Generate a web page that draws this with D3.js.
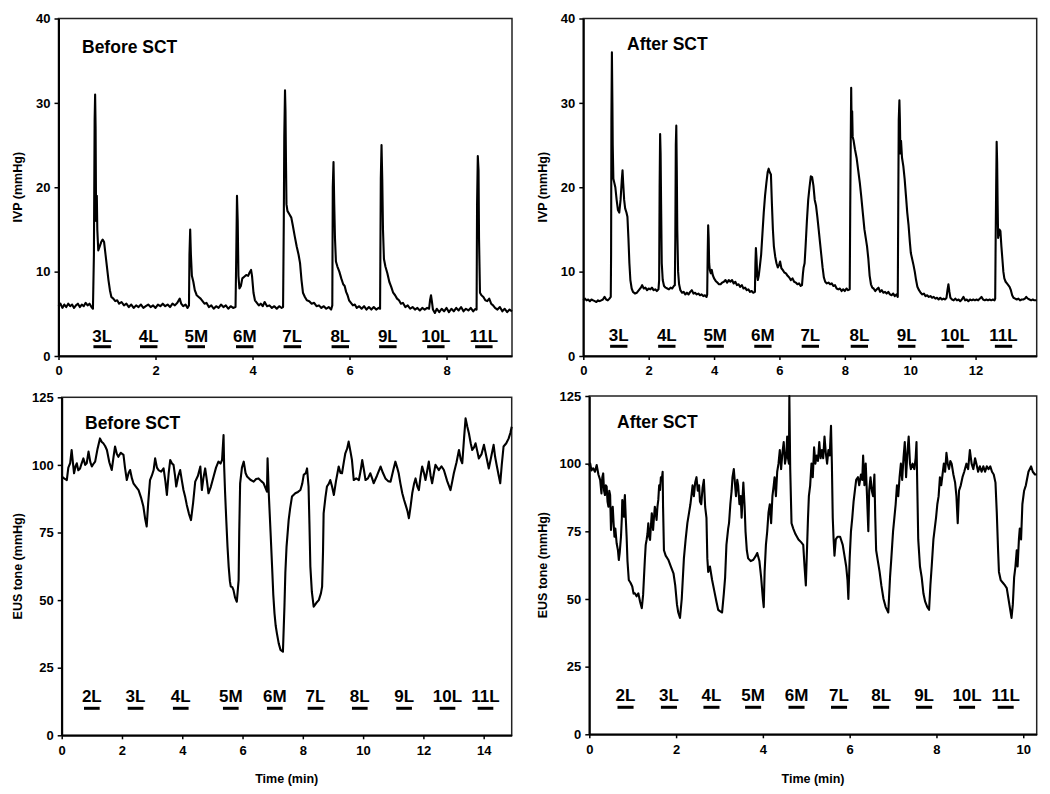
<!DOCTYPE html>
<html><head><meta charset="utf-8">
<script src="https://cdn.jsdelivr.net/npm/d3@7"></script>
<style>
html,body{margin:0;padding:0;background:#fff;}
svg text{font-family:"Liberation Sans",Arial,sans-serif;font-weight:bold;fill:#000;}
</style></head>
<body><svg id="c" width="1050" height="794"></svg>
<script>
// ---- DATA ----
const ivpBefore = [[0,5.9],[0.04,6.2],[0.08,5.7],[0.12,6.1],[0.16,5.8],[0.2,6.2],[0.24,5.9],[0.28,6.1],[0.32,5.7],[0.36,6.0],[0.4,6.2],[0.44,5.8],[0.48,6.1],[0.52,5.9],[0.56,6.3],[0.6,6.0],[0.64,6.2],[0.68,5.8],[0.71,5.6],[0.73,12],[0.745,28],[0.755,31],[0.765,27],[0.775,16],[0.79,19],[0.8,15],[0.82,12.5],[0.85,13],[0.88,13.5],[0.91,13.8],[0.94,13.5],[0.97,12],[1.0,10.5],[1.03,9],[1.06,7.8],[1.09,7],[1.13,6.8],[1.17,6.5],[1.21,6.6],[1.25,6.2],[1.3,6.4],[1.35,6.0],[1.4,6.2],[1.45,5.8],[1.5,6.1],[1.55,5.7],[1.6,6.0],[1.65,5.8],[1.7,6.1],[1.75,5.7],[1.8,5.9],[1.85,6.1],[1.9,5.8],[1.95,6.0],[2.0,5.7],[2.05,6.1],[2.1,5.9],[2.15,6.2],[2.2,5.9],[2.25,6.1],[2.3,5.8],[2.35,6.2],[2.4,6.0],[2.45,6.3],[2.5,6.8],[2.53,6.2],[2.57,5.9],[2.62,6.1],[2.66,5.7],[2.69,6],[2.7,12],[2.715,15],[2.73,12],[2.75,9.5],[2.78,8.8],[2.81,7.8],[2.85,7.2],[2.89,7.0],[2.93,6.8],[2.97,6.5],[3.01,6.2],[3.05,6.3],[3.1,5.8],[3.15,6.0],[3.2,5.6],[3.25,5.9],[3.3,5.7],[3.35,6.1],[3.4,5.8],[3.45,6.0],[3.5,5.6],[3.55,5.9],[3.6,5.7],[3.65,5.8],[3.665,12],[3.68,19],[3.695,16],[3.71,9.5],[3.73,8],[3.76,8.3],[3.79,9.2],[3.83,9.4],[3.87,9.6],[3.91,9.5],[3.94,9.9],[3.97,10.2],[3.99,9.5],[4.02,7.5],[4.05,6.6],[4.09,6.3],[4.13,6.0],[4.17,6.2],[4.21,5.9],[4.25,6.4],[4.3,5.9],[4.35,6.0],[4.4,5.7],[4.45,5.9],[4.5,5.6],[4.55,5.9],[4.6,5.7],[4.63,5.8],[4.645,16],[4.655,26],[4.67,31.5],[4.68,29],[4.69,23],[4.7,18],[4.72,17.2],[4.76,16.8],[4.8,16.4],[4.83,15.5],[4.87,14.2],[4.91,13],[4.95,12],[4.98,11],[5.01,9],[5.04,7.5],[5.08,7.0],[5.12,6.6],[5.17,6.5],[5.22,6.2],[5.27,6.3],[5.32,5.9],[5.37,6.0],[5.42,5.7],[5.47,5.9],[5.52,5.6],[5.57,5.8],[5.62,5.5],[5.645,6],[5.655,20],[5.67,23],[5.685,18],[5.7,14],[5.72,11.2],[5.75,10.6],[5.79,10],[5.83,9.2],[5.87,8.5],[5.9,8.3],[5.93,7.6],[5.96,7.2],[5.99,6.6],[6.03,6.3],[6.07,6.0],[6.11,6.1],[6.15,5.7],[6.2,5.9],[6.25,5.6],[6.3,5.9],[6.35,5.5],[6.4,5.8],[6.45,5.5],[6.5,5.8],[6.55,5.5],[6.6,5.7],[6.63,5.6],[6.645,21],[6.66,25],[6.675,21],[6.69,15],[6.71,11.5],[6.74,10.6],[6.78,9.8],[6.82,8.8],[6.86,8.2],[6.9,7.5],[6.94,7.2],[6.98,6.8],[7.02,6.6],[7.06,6.2],[7.1,6.3],[7.15,5.8],[7.2,6.0],[7.25,5.6],[7.3,5.8],[7.35,5.5],[7.4,5.7],[7.45,5.4],[7.5,5.7],[7.55,5.5],[7.6,5.7],[7.64,5.6],[7.66,6.6],[7.68,7.2],[7.7,6.4],[7.72,5.5],[7.76,5.1],[7.8,5.6],[7.85,5.2],[7.9,5.6],[7.95,5.3],[8.0,5.7],[8.05,5.2],[8.1,5.6],[8.15,5.3],[8.2,5.7],[8.25,5.4],[8.3,5.8],[8.35,5.3],[8.4,5.6],[8.45,5.4],[8.5,5.7],[8.55,5.3],[8.6,5.6],[8.62,5.5],[8.63,18],[8.645,23.7],[8.66,22],[8.67,14],[8.69,7.5],[8.72,7.2],[8.76,7.0],[8.8,6.6],[8.84,6.5],[8.88,6.8],[8.92,6.2],[8.96,6.0],[9.0,5.7],[9.05,5.5],[9.1,5.8],[9.15,5.3],[9.2,5.6],[9.25,5.2],[9.3,5.5],[9.35,5.3]];

const ivpAfter = [[0,6.6],[0.05,6.8],[0.1,6.6],[0.15,6.7],[0.2,6.5],[0.25,6.7],[0.3,6.6],[0.35,6.5],[0.4,6.4],[0.45,6.6],[0.5,6.5],[0.55,6.6],[0.6,6.7],[0.65,7.0],[0.7,6.7],[0.75,6.6],[0.8,6.8],[0.84,7.0],[0.85,12],[0.86,28],[0.875,36],[0.89,30],[0.9,25],[0.92,21],[0.95,20.5],[0.98,20],[1.02,18.5],[1.06,17.3],[1.1,17],[1.14,18.5],[1.18,21],[1.2,22],[1.22,20.5],[1.25,18.5],[1.28,17.5],[1.32,17],[1.35,16.5],[1.38,14],[1.41,11],[1.44,9],[1.48,8],[1.52,7.6],[1.58,7.4],[1.64,7.5],[1.7,7.8],[1.76,8.1],[1.8,8.4],[1.85,8.0],[1.9,8.1],[1.95,7.8],[2.0,8.0],[2.05,7.9],[2.1,8.1],[2.15,7.8],[2.2,7.9],[2.25,7.7],[2.3,7.9],[2.32,9],[2.335,20],[2.35,26.3],[2.365,24],[2.38,18],[2.4,11],[2.43,9],[2.47,8.3],[2.52,8.1],[2.57,8.0],[2.62,7.9],[2.67,8.1],[2.72,8.0],[2.77,8.3],[2.8,8.4],[2.815,14],[2.83,25],[2.845,27.3],[2.86,22],[2.875,15],[2.9,10],[2.93,8.5],[2.97,7.8],[3.02,7.5],[3.07,7.6],[3.12,7.3],[3.17,7.5],[3.22,7.3],[3.27,7.6],[3.32,7.8],[3.37,7.4],[3.42,7.5],[3.47,7.3],[3.52,7.4],[3.57,7.2],[3.62,7.3],[3.67,7.1],[3.72,7.2],[3.77,7.0],[3.79,7.3],[3.805,12],[3.82,15.5],[3.835,14],[3.85,11],[3.87,10.2],[3.9,9.8],[3.93,10.2],[3.96,9.6],[4.0,9.2],[4.05,8.9],[4.1,8.7],[4.15,8.5],[4.2,8.5],[4.25,8.7],[4.3,8.8],[4.35,9.0],[4.4,8.7],[4.45,9.0],[4.5,8.8],[4.55,9.0],[4.6,8.6],[4.65,8.8],[4.7,8.4],[4.75,8.5],[4.8,8.2],[4.85,8.4],[4.9,8.0],[4.95,8.1],[5.0,7.8],[5.05,7.9],[5.1,7.6],[5.15,7.7],[5.2,7.5],[5.25,7.6],[5.265,11],[5.28,12.8],[5.3,11.5],[5.32,9.5],[5.34,9.0],[5.37,9.6],[5.4,10.6],[5.44,12],[5.48,14.5],[5.52,17],[5.56,19],[5.6,20.5],[5.64,21.8],[5.67,22.2],[5.7,21.8],[5.74,21.5],[5.77,18],[5.8,15],[5.83,13],[5.87,11.8],[5.91,11.0],[5.95,10.5],[5.99,10.8],[6.02,11.2],[6.06,10.4],[6.1,10.2],[6.15,9.9],[6.2,9.8],[6.25,9.5],[6.3,9.3],[6.35,9.0],[6.4,9.2],[6.45,8.8],[6.5,8.7],[6.55,8.5],[6.6,8.6],[6.65,8.3],[6.69,8.4],[6.72,9.8],[6.74,10.5],[6.77,11],[6.8,13],[6.84,16],[6.88,18.5],[6.92,20],[6.96,21.3],[7.0,21.2],[7.04,20.2],[7.08,18.5],[7.12,17.8],[7.16,16.5],[7.2,15],[7.24,13.5],[7.28,12],[7.32,10.5],[7.36,9.3],[7.4,8.8],[7.45,8.6],[7.5,8.7],[7.55,8.5],[7.6,8.6],[7.65,8.3],[7.7,8.4],[7.75,8.0],[7.8,7.9],[7.85,8.0],[7.9,7.7],[7.95,7.9],[8.0,7.7],[8.05,8.0],[8.1,7.8],[8.15,7.9],[8.165,17],[8.18,25],[8.195,31.8],[8.21,27],[8.225,29],[8.24,26],[8.27,25.5],[8.31,24.5],[8.36,23.5],[8.41,22],[8.46,20.5],[8.5,19],[8.55,17],[8.6,15],[8.64,14],[8.68,13],[8.72,11.5],[8.76,9.5],[8.8,8.5],[8.84,8.1],[8.88,8.0],[8.93,7.7],[8.98,7.9],[9.03,8.1],[9.08,7.6],[9.13,7.8],[9.18,7.5],[9.23,7.6],[9.28,7.4],[9.33,7.6],[9.38,7.3],[9.43,7.2],[9.48,7.4],[9.53,7.1],[9.58,7.3],[9.62,7.0],[9.635,18],[9.65,28],[9.67,30.3],[9.685,28],[9.7,24],[9.72,25.5],[9.75,23.5],[9.79,22.5],[9.83,21],[9.87,19],[9.91,17],[9.95,15.5],[9.99,13.5],[10.02,12.2],[10.06,11.5],[10.1,10.8],[10.14,10],[10.18,9],[10.22,8.2],[10.27,7.8],[10.32,7.5],[10.37,7.3],[10.42,7.4],[10.47,7.1],[10.52,7.2],[10.57,7.0],[10.62,7.1],[10.67,6.9],[10.72,7.0],[10.77,6.8],[10.82,6.9],[10.87,6.7],[10.92,6.9],[10.97,6.7],[11.02,6.8],[11.07,6.7],[11.11,6.9],[11.14,7.8],[11.17,8.5],[11.2,7.6],[11.23,6.9],[11.28,6.7],[11.33,6.6],[11.38,6.8],[11.43,6.6],[11.48,6.7],[11.53,6.5],[11.58,6.7],[11.63,7.0],[11.68,6.6],[11.73,6.7],[11.78,6.5],[11.83,6.7],[11.88,6.6],[11.93,6.7],[11.98,6.6],[12.03,6.7],[12.08,6.6],[12.13,6.8],[12.18,7.0],[12.23,6.7],[12.28,6.6],[12.33,6.7],[12.38,6.6],[12.43,6.7],[12.48,6.6],[12.53,6.7],[12.58,6.6],[12.6,6.8],[12.615,14],[12.63,20],[12.645,25.4],[12.66,23],[12.675,18],[12.69,14],[12.71,14.5],[12.73,15],[12.76,14.8],[12.79,13],[12.82,11.5],[12.85,10],[12.88,9.2],[12.92,8.8],[12.96,8.6],[13.0,8.4],[13.04,8.2],[13.08,7.8],[13.12,7.2],[13.16,6.9],[13.21,6.8],[13.26,6.7],[13.31,6.8],[13.36,6.6],[13.41,6.7],[13.46,6.7],[13.51,6.8],[13.55,7.0],[13.6,6.8],[13.65,6.7],[13.7,6.6],[13.75,6.7],[13.8,6.6],[13.87,6.6]];

const eusBefore = [[0,95.7],[0.08,95],[0.17,94.4],[0.22,99],[0.28,100.6],[0.33,105.5],[0.37,101],[0.41,96.9],[0.46,99.5],[0.5,100.6],[0.55,98],[0.61,98.7],[0.66,100.5],[0.72,102.4],[0.78,100],[0.83,100.6],[0.89,104.9],[0.95,101],[1.0,99.4],[1.06,100.5],[1.11,101.2],[1.19,106],[1.27,109.8],[1.33,108.5],[1.38,108],[1.44,107],[1.5,105.5],[1.58,101],[1.66,98.1],[1.72,103],[1.77,106.8],[1.83,104],[1.88,103],[1.96,104.5],[2.05,103.7],[2.1,99],[2.16,94.4],[2.22,97],[2.27,98.1],[2.33,95],[2.38,93.2],[2.46,92],[2.55,90.7],[2.63,88],[2.71,84.6],[2.77,80],[2.82,77.2],[2.87,86],[2.93,94.4],[2.99,96],[3.05,98.1],[3.1,102.4],[3.16,99],[3.21,98.1],[3.3,97.5],[3.38,98.7],[3.44,94],[3.49,88.9],[3.55,97],[3.6,101.8],[3.66,100.5],[3.71,100],[3.76,96],[3.8,92],[3.87,96],[3.93,98.1],[3.99,94],[4.04,90.7],[4.1,88],[4.15,85.2],[4.22,82],[4.29,79.6],[4.36,86],[4.43,93.8],[4.52,96],[4.6,99.4],[4.65,90.7],[4.7,95],[4.76,98.7],[4.82,94],[4.87,89.5],[4.95,92],[5.04,95.7],[5.12,99],[5.2,101.2],[5.27,100.5],[5.32,101.8],[5.37,111],[5.39,99.4],[5.42,90],[5.46,79.6],[5.5,70],[5.54,62.4],[5.58,57],[5.61,55],[5.66,54.8],[5.7,53.7],[5.75,51],[5.81,49.4],[5.87,57.4],[5.89,75],[5.92,93.2],[5.98,99],[6.04,101.2],[6.1,97],[6.15,95.7],[6.26,94.5],[6.37,93.8],[6.45,94.8],[6.53,95],[6.62,94],[6.7,93.2],[6.76,91.5],[6.81,90.1],[6.83,102.4],[6.87,89.5],[6.93,75],[6.98,62.4],[7.02,52],[7.06,45.1],[7.1,40.5],[7.14,37.7],[7.2,34],[7.26,31.6],[7.34,30.9],[7.39,47.6],[7.42,60],[7.46,69.8],[7.53,79.6],[7.58,84],[7.64,88.3],[7.75,89.5],[7.84,90],[7.92,90.7],[7.98,93],[8.03,96.3],[8.1,97],[8.14,98.7],[8.19,92],[8.22,78],[8.25,62.4],[8.3,53],[8.36,47.6],[8.45,49],[8.53,50],[8.6,52.5],[8.64,55],[8.67,68],[8.69,82.1],[8.75,88],[8.8,92],[8.86,93],[8.91,94.4],[8.97,92],[9.03,88.9],[9.1,94],[9.19,99.4],[9.25,97],[9.3,96.9],[9.36,101],[9.41,104.3],[9.47,106],[9.52,108.6],[9.58,105],[9.63,101.8],[9.69,94.4],[9.77,95],[9.86,94.4],[9.92,98],[9.97,101.8],[10.03,98],[10.08,94.4],[10.16,95],[10.24,96.9],[10.3,95],[10.35,93.2],[10.46,96],[10.58,99.4],[10.66,97],[10.74,95],[10.83,94],[10.91,93.8],[11.0,98],[11.07,101.2],[11.13,99],[11.18,96.9],[11.24,93],[11.3,89.5],[11.36,87],[11.41,85.2],[11.47,83],[11.52,80.3],[11.58,85],[11.63,89.5],[11.69,93],[11.74,95],[11.8,92],[11.85,90.7],[11.91,96],[11.96,99.4],[12.02,97],[12.07,94.4],[12.13,98],[12.18,101.2],[12.24,96],[12.29,93.2],[12.35,97],[12.4,100],[12.46,99],[12.51,98.1],[12.6,99.5],[12.68,98.1],[12.79,94],[12.9,90.7],[12.96,94],[13.01,96.9],[13.1,101],[13.18,105.5],[13.24,102],[13.29,100.6],[13.35,110],[13.4,117.2],[13.46,114],[13.51,111.7],[13.57,108],[13.62,105.5],[13.68,106.5],[13.73,108],[13.79,105],[13.84,102.4],[13.93,104],[14.01,107.4],[14.09,103],[14.17,98.7],[14.25,103],[14.33,107.4],[14.38,103],[14.44,99.4],[14.5,96],[14.55,93.2],[14.6,100],[14.66,106.8],[14.75,108],[14.83,109.8],[14.89,112],[14.93,114.1]];

const eusAfter = [[0,99],[0.02,100.1],[0.05,97.5],[0.09,98.3],[0.13,97],[0.17,99.5],[0.21,96],[0.25,94],[0.28,89],[0.3,95],[0.32,96.4],[0.34,90],[0.36,88.4],[0.38,92],[0.4,91.5],[0.42,86],[0.44,84.1],[0.46,90],[0.48,88.4],[0.5,75.5],[0.52,82],[0.54,84.1],[0.56,78],[0.58,73],[0.6,76],[0.63,70.6],[0.66,68],[0.68,64.4],[0.7,67],[0.73,73],[0.75,80],[0.76,86.6],[0.78,82],[0.8,80.4],[0.81,86],[0.82,88.4],[0.84,80],[0.86,73],[0.88,64],[0.91,57],[0.95,56],[0.99,54.6],[1.02,52],[1.05,52.1],[1.09,51],[1.13,52.1],[1.17,49],[1.21,46.6],[1.24,51.5],[1.26,58],[1.28,64.4],[1.3,70],[1.32,71.8],[1.34,74],[1.36,78],[1.38,73],[1.4,71.8],[1.42,77],[1.44,81.7],[1.46,78],[1.47,75.5],[1.49,80],[1.51,84.1],[1.53,82],[1.55,79.2],[1.57,84],[1.59,86.6],[1.61,92],[1.63,90.3],[1.65,95],[1.67,94],[1.69,97],[1.7,84],[1.72,68],[1.76,66],[1.82,64.5],[1.88,62],[1.94,59.5],[1.98,55],[2.02,48],[2.05,45],[2.09,43],[2.13,50],[2.18,65],[2.22,72],[2.26,78],[2.3,82],[2.33,85],[2.36,89],[2.38,92],[2.41,88],[2.44,93],[2.47,95],[2.5,90],[2.53,92],[2.55,86],[2.58,85],[2.61,91],[2.64,94],[2.67,84],[2.7,80],[2.72,65],[2.74,60],[2.78,62],[2.83,57],[2.88,53],[2.93,49],[2.97,46],[3.01,45.5],[3.06,45],[3.1,52],[3.13,58],[3.16,70],[3.2,76],[3.22,78],[3.25,85],[3.28,90],[3.3,95],[3.33,98],[3.36,92],[3.38,88],[3.41,94],[3.43,92],[3.46,85],[3.49,88],[3.51,80],[3.53,87],[3.55,93],[3.58,84],[3.6,75],[3.63,68],[3.66,65],[3.72,64],[3.78,64.5],[3.84,66],[3.87,67],[3.92,64],[3.96,58],[4.0,50],[4.02,47],[4.04,60],[4.07,70],[4.1,75],[4.13,82],[4.16,85],[4.19,78],[4.22,88],[4.25,92],[4.27,95],[4.3,88],[4.33,97],[4.36,100],[4.39,105],[4.42,98],[4.45,104],[4.48,108],[4.51,100],[4.54,103],[4.56,110],[4.58,102],[4.6,100],[4.61,125],[4.63,98],[4.66,78],[4.7,76],[4.75,74],[4.82,72],[4.88,71],[4.93,70],[4.96,62],[4.99,55],[5.02,70],[5.04,80],[5.06,88],[5.09,92],[5.12,100],[5.15,95],[5.18,106],[5.21,100],[5.24,103],[5.27,101],[5.3,108],[5.33,102],[5.36,105],[5.39,102],[5.42,110],[5.45,104],[5.48,100],[5.51,105],[5.54,103],[5.57,114],[5.59,100],[5.61,80],[5.63,72],[5.65,66],[5.68,72],[5.72,73],[5.78,73],[5.84,70],[5.88,66],[5.92,62],[5.95,57],[5.97,50],[6.0,65],[6.03,75],[6.06,80],[6.09,86],[6.12,90],[6.15,94],[6.19,95],[6.22,92],[6.26,96],[6.29,94],[6.31,103],[6.34,92],[6.37,100],[6.4,88],[6.43,75],[6.45,90],[6.48,95],[6.51,90],[6.54,88],[6.57,96],[6.59,80],[6.61,68],[6.65,64],[6.69,60],[6.73,55],[6.78,50],[6.83,47],[6.89,45],[6.93,58],[6.96,65],[6.98,70],[7.0,75],[7.03,80],[7.06,85],[7.09,92],[7.12,88],[7.15,95],[7.18,100],[7.21,94],[7.24,102],[7.27,108],[7.3,95],[7.33,104],[7.36,110],[7.39,100],[7.41,98],[7.45,100],[7.49,98],[7.52,102],[7.54,108],[7.56,90],[7.58,72],[7.62,62],[7.66,58],[7.7,52],[7.74,49],[7.79,47],[7.83,46],[7.86,55],[7.89,62],[7.93,72],[7.96,76],[7.99,80],[8.02,85],[8.05,88],[8.08,95],[8.11,92],[8.14,96],[8.17,100],[8.2,97],[8.23,104],[8.26,100],[8.29,98],[8.32,101],[8.35,100],[8.39,96],[8.43,93],[8.46,88],[8.49,78],[8.52,90],[8.56,92],[8.6,95],[8.64,97],[8.69,100],[8.73,98],[8.77,105],[8.81,100],[8.85,98],[8.89,102],[8.92,100],[8.96,97],[9.0,99],[9.04,97],[9.08,99],[9.12,97],[9.16,99],[9.2,98],[9.24,99],[9.28,97],[9.32,96],[9.36,93],[9.39,82],[9.42,68],[9.44,60],[9.48,57],[9.53,56],[9.58,55],[9.62,54],[9.66,50],[9.7,46],[9.73,43],[9.76,48],[9.79,58],[9.82,62],[9.85,68],[9.87,62],[9.9,72],[9.92,76],[9.95,72],[9.98,85],[10.02,90],[10.06,92],[10.12,97],[10.18,99],[10.22,97],[10.27,96],[10.31,96]];

const ivpBeforeStimLabels = ["3L","4L","5M","6M","7L","8L","9L","10L","11L"];
const ivpBeforeStimStart = [0.72,1.68,2.66,3.66,4.64,5.63,6.61,7.6,8.59];
const ivpBeforeStimDur = 0.36;
const ivpAfterStimLabels = ["3L","4L","5M","6M","7L","8L","9L","10L","11L"];
const ivpAfterStimStart = [0.82,2.29,3.77,5.23,6.68,8.18,9.63,11.11,12.59];
const ivpAfterStimDur = 0.53;
const eusBeforeStimLabels = ["2L","3L","4L","5M","6M","7L","8L","9L","10L","11L"];
const eusBeforeStimStart = [0.74,2.19,3.69,5.35,6.81,8.16,9.63,11.1,12.54,13.8];
const eusBeforeStimDur = 0.52;
const eusAfterStimLabels = ["2L","3L","4L","5M","6M","7L","8L","9L","10L","11L"];
const eusAfterStimStart = [0.65,1.65,2.63,3.59,4.59,5.57,6.54,7.53,8.52,9.41];
const eusAfterStimDur = 0.37;

const ivpTicks = [0,10,20,30,40];
const eusTicks = [0,25,50,75,100,125];
const xTicksIvpBefore = [0,2,4,6,8];
const xTicksIvpAfter = [0,2,4,6,8,10,12];
const xTicksEusBefore = [0,2,4,6,8,10,12,14];
const xTicksEusAfter = [0,2,4,6,8,10];

// ---- LAYOUT ----
const svg = d3.select("#c");
const panels = [
  {data: ivpBefore, L:58.5, R:512, T:18.5, B:356, xmax:9.35, ymax:40, yt:ivpTicks, xt:xTicksIvpBefore,
   title:"Before SCT", tx:82, ty:53, ylab:"IVP (mmHg)", ylx:18, xlab:null,
   sl:ivpBeforeStimLabels, ss:ivpBeforeStimStart, sd:ivpBeforeStimDur, lblOff:14, barOff:9.3},
  {data: ivpAfter, L:583.3, R:1036.7, T:18.5, B:356, xmax:13.87, ymax:40, yt:ivpTicks, xt:xTicksIvpAfter,
   title:"After SCT", tx:627, ty:50, ylab:"IVP (mmHg)", ylx:543, xlab:null,
   sl:ivpAfterStimLabels, ss:ivpAfterStimStart, sd:ivpAfterStimDur, lblOff:15, barOff:9.7},
  {data: eusBefore, L:61.7, R:511.7, T:397.3, B:735.3, xmax:14.93, ymax:125, yt:eusTicks, xt:xTicksEusBefore,
   title:"Before SCT", tx:85, ty:429, ylab:"EUS tone (mmHg)", ylx:18, xlab:"Time (min)",
   sl:eusBeforeStimLabels, ss:eusBeforeStimStart, sd:eusBeforeStimDur, lblOff:33, barOff:27},
  {data: eusAfter, L:589.3, R:1036.7, T:396, B:734.3, xmax:10.31, ymax:125, yt:eusTicks, xt:xTicksEusAfter,
   title:"After SCT", tx:617, ty:428, ylab:"EUS tone (mmHg)", ylx:543, xlab:"Time (min)",
   sl:eusAfterStimLabels, ss:eusAfterStimStart, sd:eusAfterStimDur, lblOff:33, barOff:27}
];

panels.forEach(p => {
  const x = d3.scaleLinear().domain([0, p.xmax]).range([p.L, p.R]);
  const y = d3.scaleLinear().domain([0, p.ymax]).range([p.B, p.T]);
  const g = svg.append("g");

  g.append("rect").attr("x", p.L).attr("y", p.T).attr("width", p.R - p.L).attr("height", p.B - p.T)
    .attr("fill", "none").attr("stroke", "#222").attr("stroke-width", 1.5);

  g.append("path").datum(p.data)
    .attr("fill", "none").attr("stroke", "#000").attr("stroke-width", 2.1).attr("stroke-linejoin", "round")
    .attr("d", d3.line().x(d => x(d[0])).y(d => y(d[1])));

  const ya = g.append("g").attr("transform", `translate(${p.L},0)`)
    .call(d3.axisLeft(y).tickValues(p.yt).tickSize(4).tickPadding(4).tickSizeOuter(0));
  const xa = g.append("g").attr("transform", `translate(0,${p.B})`)
    .call(d3.axisBottom(x).tickValues(p.xt).tickSize(4).tickPadding(6).tickSizeOuter(0));
  [ya, xa].forEach(a => {
    a.select(".domain").attr("stroke", "#000").attr("stroke-width", 2);
    a.selectAll(".tick line").attr("stroke", "#000").attr("stroke-width", 1.5);
    a.selectAll(".tick text").attr("font-size", 13).attr("font-family", "Liberation Sans, Arial, sans-serif")
      .attr("font-weight", "bold").attr("fill", "#000");
  });

  g.append("text").attr("x", p.tx).attr("y", p.ty).attr("font-size", 17.5).text(p.title);

  g.append("text").attr("transform", `translate(${p.ylx + 4},${(p.T + p.B) / 2}) rotate(-90)`)
    .attr("text-anchor", "middle").attr("font-size", 12.5).text(p.ylab);

  if (p.xlab) {
    g.append("text").attr("x", (p.L + p.R) / 2).attr("y", 783).attr("text-anchor", "middle")
      .attr("font-size", 12.5).text(p.xlab);
  }

  p.sl.forEach((lab, i) => {
    const x0 = x(p.ss[i]), x1 = x(p.ss[i] + p.sd);
    g.append("line").attr("x1", x0).attr("x2", x1).attr("y1", p.B - p.barOff).attr("y2", p.B - p.barOff)
      .attr("stroke", "#000").attr("stroke-width", 3);
    g.append("text").attr("x", (x0 + x1) / 2).attr("y", p.B - p.lblOff).attr("text-anchor", "middle")
      .attr("font-size", 17).text(lab);
  });
});
</script></body></html>
